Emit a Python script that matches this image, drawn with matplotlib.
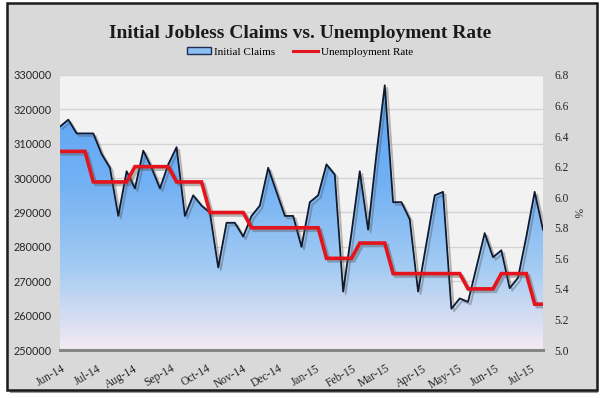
"""
Initial jobless claims (weekly) against the unemployment rate, Jun-14 to Jul-15.
"""

import matplotlib
matplotlib.use("Agg")
import matplotlib.dates as mdates
import matplotlib.patheffects as pe
import matplotlib.pyplot as plt
import numpy as np
import pandas as pd
from matplotlib.colors import LinearSegmentedColormap
from matplotlib.lines import Line2D
from matplotlib.patches import Patch, Rectangle

# weekly observations, week ending Saturday
START = "2014-05-31"
N_WEEKS = 59

initial_claims = [
    315000, 317000, 313000, 313000, 313000, 307000, 303000, 289000, 302000, 297000,
    308000, 303000, 297000, 304000, 309000, 289000, 295000, 292000, 290000, 274000,
    287000, 287000, 283000, 289000, 292000, 303000, 296000, 289000, 289000, 280000,
    293000, 295000, 304000, 301000, 267000, 284000, 302000, 285000, 307000, 327000,
    293000, 293000, 288000, 267000, 281000, 295000, 296000, 262000, 265000, 264000,
    274000, 284000, 277000, 279000, 268000, 271000, 283000, 296000, 285000,
]

unemployment_rate = (
    [6.3] * 4 + [6.1] * 5 + [6.2] * 5 + [6.1] * 4 + [5.9] * 5 + [5.8] * 9
    + [5.6] * 4 + [5.7] * 4 + [5.5] * 9 + [5.4] * 4 + [5.5] * 4 + [5.3] * 2
)

claims_ticks = list(range(250000, 330001, 10000))
rate_ticks = [5.0, 5.2, 5.4, 5.6, 5.8, 6.0, 6.2, 6.4, 6.6, 6.8]

SERIF = "Liberation Serif"
SANS = "Lato"


def main():
    dates = pd.date_range(START, periods=N_WEEKS, freq="7D")
    x = mdates.date2num(dates)

    fig = plt.figure(figsize=(6.0, 3.98), dpi=100, facecolor="white")

    # outer frame with a soft shadow
    fig.patches.append(Rectangle((0.017, 0.012), 0.98, 0.98, transform=fig.transFigure,
                                 facecolor="#9a9a9a", edgecolor="none", zorder=-10))
    fig.patches.append(Rectangle((0.012, 0.02), 0.983, 0.972, transform=fig.transFigure,
                                 facecolor="#d9d9d9", edgecolor="#1a1a1a", lw=1.8, zorder=-9))

    ax = fig.add_axes([0.1, 0.1206, 0.805, 0.691])
    ax.set_facecolor("#f2f2f2")
    ax.set_axisbelow(True)
    ax.yaxis.grid(True, color="#d4d4d4", lw=1.0)

    # gradient fill under the claims line
    poly = ax.fill_between(x, 250000, initial_claims, facecolor="none", edgecolor="none")
    cmap = LinearSegmentedColormap.from_list(
        "claims", [(0.0, "#f4ebf4"), (0.08, "#dfe1f2"), (0.3, "#a3cbf3"),
                   (0.6, "#73b1f4"), (1.0, "#58a2f6")])
    grad = np.linspace(0, 1, 256).reshape(-1, 1)
    im = ax.imshow(grad, extent=[x[0], x[-1], 250000, 330000], origin="lower",
                   aspect="auto", cmap=cmap, zorder=1)
    im.set_clip_path(poly.get_paths()[0], transform=ax.transData)

    shadow = [pe.SimpleLineShadow(offset=(1.8, -1.8), shadow_color="#555555", alpha=0.4),
              pe.Normal()]
    ax.plot(x, initial_claims, color="#0f1a2e", lw=1.3, zorder=3, path_effects=shadow)

    ax.set_xlim(x[0], x[-1])
    ax.set_ylim(250000, 330000)
    ax.set_yticks(claims_ticks)
    ax.set_yticklabels([str(v) for v in claims_ticks], family=SANS, fontsize=7.8,
                       color="#262626")
    ax.xaxis.set_major_locator(mdates.MonthLocator())
    ax.xaxis.set_major_formatter(mdates.DateFormatter("%b-%y"))
    for lbl in ax.get_xticklabels():
        lbl.set_family(SERIF)
        lbl.set_fontsize(8.3)
        lbl.set_rotation(30)
        lbl.set_ha("right")
        lbl.set_rotation_mode("anchor")
        lbl.set_color("#262626")
    ax.tick_params(axis="y", length=0, pad=6)
    ax.tick_params(axis="x", length=0, pad=9)
    for side in ("top", "left", "right"):
        ax.spines[side].set_visible(False)
    ax.spines["bottom"].set_color("#858585")
    ax.spines["bottom"].set_linewidth(2.2)
    ax.spines["bottom"].set_zorder(5)

    ax2 = ax.twinx()
    ax2.plot(x, unemployment_rate, color="#e3141b", lw=2.6, zorder=4,
             solid_joinstyle="miter",
             path_effects=[pe.SimpleLineShadow(offset=(1.8, -1.8), shadow_color="#555555",
                                               alpha=0.4), pe.Normal()])
    ax2.set_ylim(5.0, 6.8)
    ax2.set_yticks(rate_ticks)
    ax2.set_yticklabels([f"{v:.1f}" for v in rate_ticks], family=SERIF, fontsize=8.3,
                        color="#262626")
    ax2.tick_params(axis="y", length=0, pad=8)
    for side in ("top", "left", "right", "bottom"):
        ax2.spines[side].set_visible(False)
    ax2.set_ylabel("%", family=SERIF, fontsize=8.3, rotation=270, labelpad=10,
                   color="#262626")

    fig.text(0.5, 0.915, "Initial Jobless Claims vs. Unemployment Rate", ha="center",
             va="center", family=SERIF, weight="bold", fontsize=14, color="#1a1a1a")

    handles = [
        Patch(facecolor="#8cc0f5", edgecolor="#1f2f4f", lw=1.0, label="Initial Claims"),
        Line2D([0], [0], color="#e3141b", lw=2.2, label="Unemployment Rate"),
    ]
    fig.legend(handles=handles, loc="center", bbox_to_anchor=(0.5, 0.869), ncol=2,
               frameon=False, prop={"family": SERIF, "size": 8}, handlelength=2.2,
               handleheight=0.6, handletextpad=0.3, columnspacing=1.6, borderpad=0)

    fig.savefig("out.png", dpi=100, facecolor=fig.get_facecolor())
    plt.close(fig)


if __name__ == "__main__":
    main()
